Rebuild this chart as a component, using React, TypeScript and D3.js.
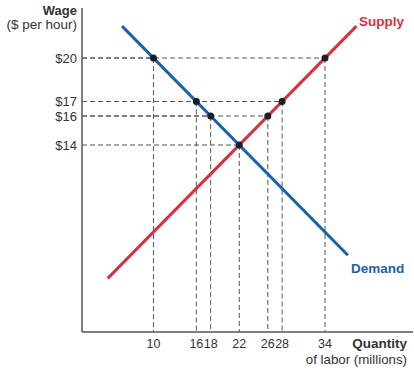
import { useEffect, useRef } from 'react';
import * as d3 from 'd3';

// equilibrium and surplus/shortage points (quantity in millions, wage in $)
const demandPoints: [number, number][] = [[10, 20], [16, 17], [18, 16], [22, 14]];
const supplyPoints: [number, number][] = [[26, 16], [28, 17], [34, 20]];
// line end points
const demandLine: [number, number][] = [[5.6, 22.2], [37.2, 6.4]];
const supplyLine: [number, number][] = [[3.6, 4.8], [38.4, 22.2]];
const xTicks = [10, 16, 18, 22, 26, 28, 34];
const yTicks = [20, 17, 16, 14];

const W = 414;
const H = 370;

export default function App() {
  const svgRef = useRef<SVGSVGElement>(null);

  useEffect(() => {
    if (!svgRef.current) return;
    const svg = d3.select(svgRef.current);
    svg.selectAll('*').remove();

    const x0 = 82;
    const y0 = 332;
    const x = d3.scaleLinear().domain([0, 34]).range([x0, 325]);
    const y = d3.scaleLinear().domain([14, 20]).range([145, 58]);
    const font = 'Liberation Sans, Arial, Helvetica, sans-serif';

    const dashColor = '#555';
    const points = [...demandPoints, ...supplyPoints];

    // dashed guides
    points.forEach(([q, w]) => {
      svg.append('line')
        .attr('x1', x0).attr('x2', x(q))
        .attr('y1', y(w)).attr('y2', y(w))
        .attr('stroke', dashColor).attr('stroke-width', 1)
        .attr('stroke-dasharray', '5,3');
      svg.append('line')
        .attr('x1', x(q)).attr('x2', x(q))
        .attr('y1', y(w)).attr('y2', y0)
        .attr('stroke', dashColor).attr('stroke-width', 1)
        .attr('stroke-dasharray', '5,3');
    });

    // axes
    svg.append('line')
      .attr('x1', x0).attr('x2', x0).attr('y1', 8).attr('y2', y0)
      .attr('stroke', '#555').attr('stroke-width', 1.5);
    svg.append('line')
      .attr('x1', x0).attr('x2', 413).attr('y1', y0).attr('y2', y0)
      .attr('stroke', '#555').attr('stroke-width', 1.5);

    const line = d3.line<[number, number]>().x(d => x(d[0])).y(d => y(d[1]));

    svg.append('path').attr('d', line(supplyLine))
      .attr('stroke', '#d1343f').attr('stroke-width', 3).attr('fill', 'none');
    svg.append('path').attr('d', line(demandLine))
      .attr('stroke', '#1b63a9').attr('stroke-width', 3).attr('fill', 'none');

    svg.selectAll('circle.pt').data(points).enter().append('circle')
      .attr('class', 'pt')
      .attr('cx', d => x(d[0])).attr('cy', d => y(d[1]))
      .attr('r', 3.5).attr('fill', '#1a1d2b');

    // tick labels
    yTicks.forEach(t => {
      svg.append('text')
        .attr('x', 77).attr('y', y(t) + 4.5)
        .attr('text-anchor', 'end')
        .attr('font-family', font).attr('font-size', 13).attr('fill', '#333')
        .text(`$${t}`);
    });
    xTicks.forEach(t => {
      svg.append('text')
        .attr('x', x(t)).attr('y', 348)
        .attr('text-anchor', 'middle')
        .attr('font-family', font).attr('font-size', 12.5).attr('fill', '#333')
        .text(t);
    });

    // axis titles
    svg.append('text').attr('x', 77).attr('y', 15).attr('text-anchor', 'end')
      .attr('font-family', font).attr('font-size', 13).attr('font-weight', 'bold').attr('fill', '#333')
      .text('Wage');
    svg.append('text').attr('x', 77).attr('y', 29).attr('text-anchor', 'end')
      .attr('font-family', font).attr('font-size', 13.5).attr('fill', '#333')
      .text('($ per hour)');
    svg.append('text').attr('x', 407).attr('y', 348).attr('text-anchor', 'end')
      .attr('font-family', font).attr('font-size', 13.5).attr('font-weight', 'bold').attr('fill', '#333')
      .text('Quantity');
    svg.append('text').attr('x', 407).attr('y', 364).attr('text-anchor', 'end')
      .attr('font-family', font).attr('font-size', 13.3).attr('fill', '#333')
      .text('of labor (millions)');

    // curve labels
    svg.append('text').attr('x', 359).attr('y', 26)
      .attr('font-family', font).attr('font-size', 13.5).attr('font-weight', 'bold').attr('fill', '#d1343f')
      .text('Supply');
    svg.append('text').attr('x', 351).attr('y', 273)
      .attr('font-family', font).attr('font-size', 13.5).attr('font-weight', 'bold').attr('fill', '#1b63a9')
      .text('Demand');
  }, []);

  return (
    <svg
      ref={svgRef}
      width={W}
      height={H}
      viewBox={`0 0 ${W} ${H}`}
      style={{ position: 'absolute', left: 0, top: 0, background: '#fff' }}
    />
  );
}
